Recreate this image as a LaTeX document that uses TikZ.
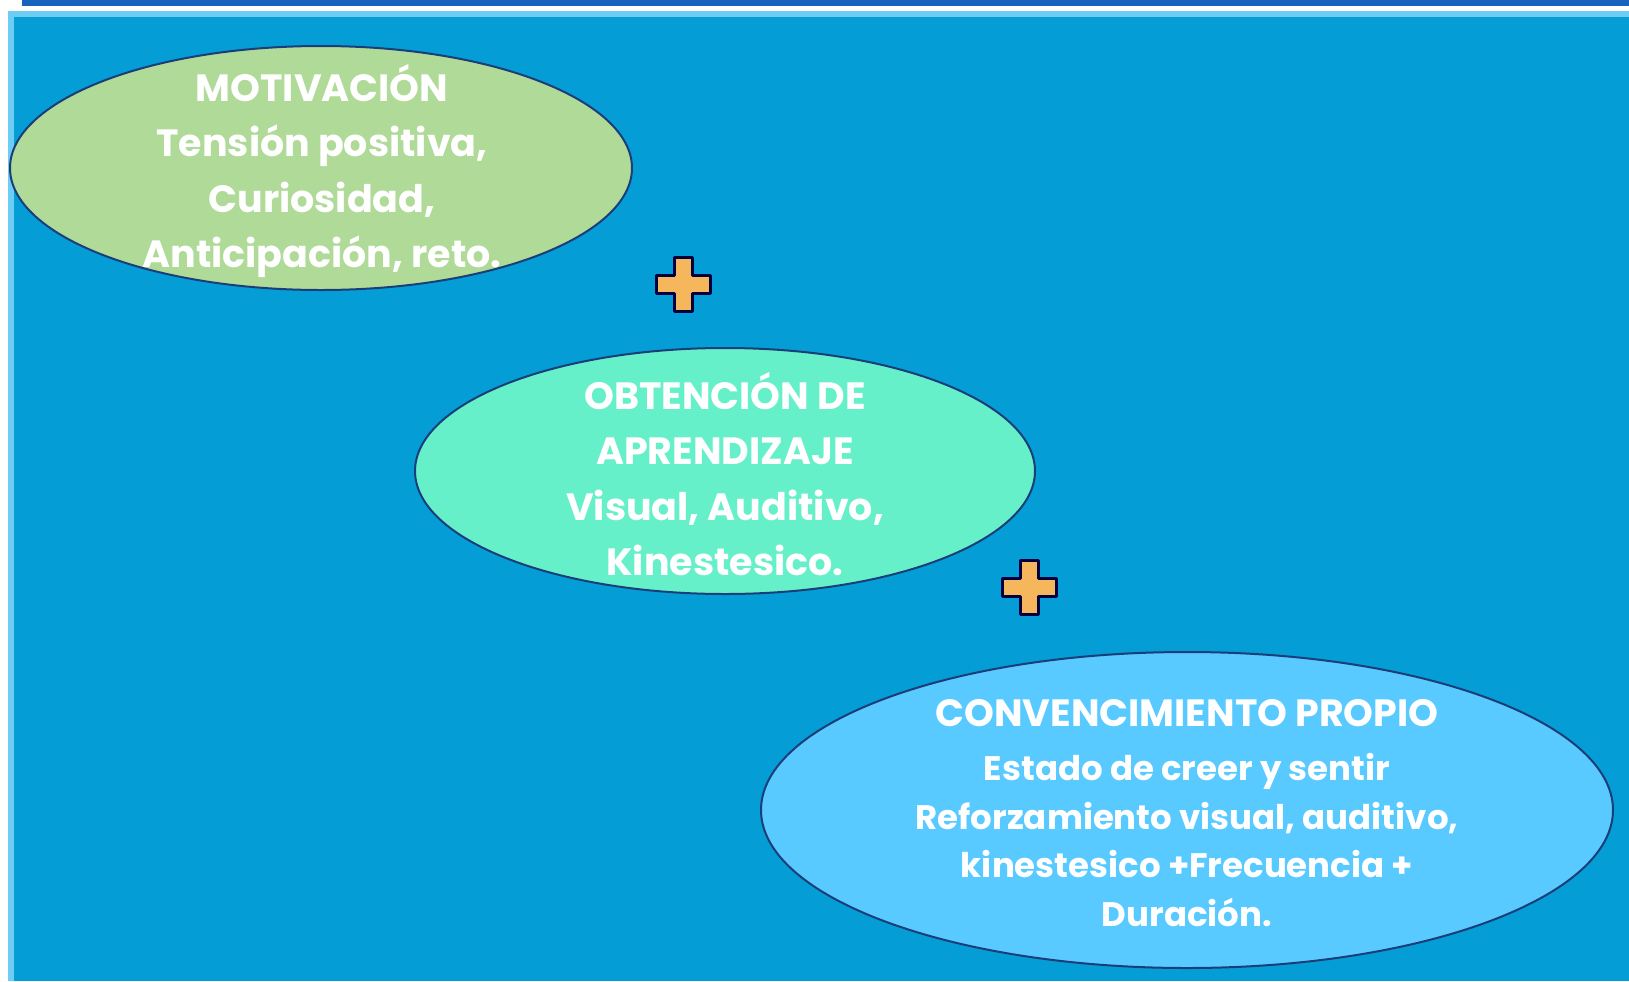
\documentclass[tikz,border=0pt]{standalone}
\usepackage{fontspec}
\setmainfont{Poppins}
\usepackage{tikz}
\usetikzlibrary{shapes.geometric, positioning}

\definecolor{panelblue}{RGB}{4,157,214}
\definecolor{barblue}{RGB}{22,100,190}
\definecolor{framelight}{RGB}{110,205,245}
\definecolor{edgeblue}{RGB}{28,62,120}
\definecolor{motgreen}{RGB}{176,218,152}
\definecolor{obtaqua}{RGB}{102,240,202}
\definecolor{convsky}{RGB}{88,202,255}
\definecolor{plusorange}{RGB}{245,182,92}

\begin{document}
\begin{tikzpicture}[x=0.5pt, y=-0.5pt,
    stage/.style={ellipse, draw=edgeblue, line width=1pt, inner sep=0pt},
    stagetext/.style={text=white, align=center, inner sep=0pt, font=\fontsize{19}{27.6}\selectfont\bfseries},
    plussign/.style={fill=plusorange, draw=black!75!blue, line width=1.5pt, line join=round}
]
% background and frame
\useasboundingbox (0,0) rectangle (1629,981);
\fill[white] (0,0) rectangle (1629,981);
\fill[barblue] (22,0) rectangle (1629,6);
\fill[framelight] (8,11) rectangle (1629,981);
\fill[panelblue] (14,17) rectangle (1629,981);

% stages
\node[stage, fill=motgreen, minimum width=311pt, minimum height=122pt] (motivacion) at (321,168) {};
\node[stagetext] (motivacion text) at (322,171)
    {MOTIVACIÓN\\Tensión positiva,\\Curiosidad,\\Anticipación, reto.};
\node[stage, fill=obtaqua, minimum width=310pt, minimum height=123pt] (obtencion) at (725,471) {};
\node[stagetext] (obtencion text) at (725,474)
    {OBTENCIÓN DE\\APRENDIZAJE\\Visual, Auditivo,\\Kinestesico.};
\node[stage, fill=convsky, minimum width=426pt, minimum height=158pt] (convencimiento) at (1187,810) {};
\node[stagetext, font=\fontsize{17}{24.4}\selectfont\bfseries] (convencimiento text) at (1187,813)
    {{\fontsize{19}{24.4}\selectfont CONVENCIMIENTO PROPIO}\\[2.6pt]
     Estado de creer y sentir\\
     Reforzamiento visual, auditivo,\\
     kinestesico +Frecuencia +\\
     Duración.};

% plus signs
\foreach \cx/\cy in {683/284, 1029/587} {
  \draw[plussign, shift={(\cx,\cy)}]
    (-9,-27) -- (9,-27) -- (9,-9) -- (27,-9) -- (27,9) -- (9,9) -- (9,27)
    -- (-9,27) -- (-9,9) -- (-27,9) -- (-27,-9) -- (-9,-9) -- cycle;
}
\end{tikzpicture}
\end{document}
